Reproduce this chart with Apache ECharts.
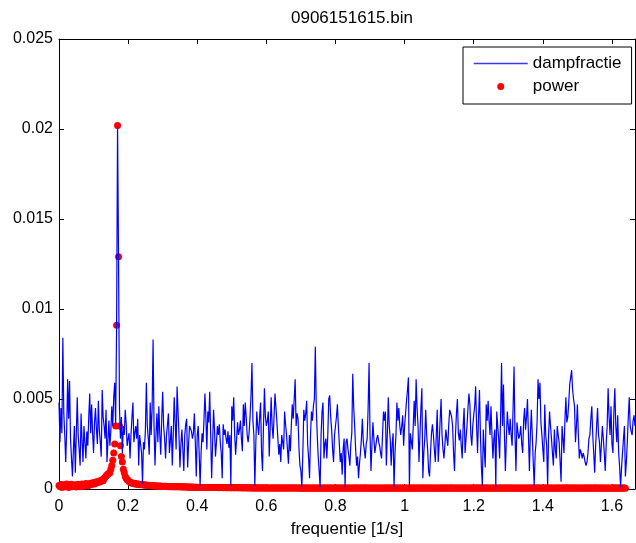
<!DOCTYPE html>
<html>
<head>
<meta charset="utf-8">
<title>0906151615.bin</title>
<script src="https://cdn.jsdelivr.net/npm/echarts@6/dist/echarts.min.js"></script>
<style>
  html, body { margin: 0; padding: 0; background: #fff; }
  #chart { width: 636px; height: 543px; }
</style>
</head>
<body>
<div id="chart"></div>
<script>
// frequency step of the spectrum (1/s)
const df = 1 / 360;
const xMax = 1 / 0.6;

// dampfractie, one value per frequency bin
const dampfractie = [
  0.0048, 0.0026, 0.0045, 0.0031, 0.0084, 0.0042, 0.0030, 0.0015, 0.0033, 0.0061,
  0.0039, 0.0060, 0.0028, 0.0017, 0.0007, 0.0022, 0.0035, 0.0009, 0.0030, 0.0051,
  0.0030, 0.0022, 0.0013, 0.0042, 0.0027, 0.0015, 0.0035, 0.0026, 0.0017, 0.0032,
  0.0024, 0.0040, 0.0053, 0.0031, 0.0047, 0.0031, 0.0020, 0.0037, 0.0045, 0.0033,
  0.0025, 0.0049, 0.0033, 0.0026, 0.0018, 0.0055, 0.0040, 0.0035, 0.0028, 0.0044,
  0.0015, 0.0027, 0.0038, 0.0024, 0.0032, 0.0046, 0.0035, 0.0051, 0.0059, 0.0036,
  0.0091, 0.0202, 0.0129, 0.0045, 0.0028, 0.0040, 0.0020, 0.0035, 0.0030, 0.0044,
  0.0036, 0.0024, 0.0028, 0.0031, 0.0017, 0.0030, 0.0040, 0.0048, 0.0026, 0.0031,
  0.0035, 0.0028, 0.0039, 0.0013, 0.0030, 0.0025, 0.0020, 0.0003, 0.0026, 0.0022,
  0.0033, 0.0059, 0.0035, 0.0028, 0.0019, 0.0048, 0.0030, 0.0045, 0.0083, 0.0035,
  0.0013, 0.0030, 0.0042, 0.0026, 0.0046, 0.0030, 0.0019, 0.0039, 0.0054, 0.0035,
  0.0028, 0.0017, 0.0030, 0.0036, 0.0042, 0.0020, 0.0027, 0.0035, 0.0013, 0.0030,
  0.0051, 0.0037, 0.0022, 0.0057, 0.0043, 0.0030, 0.0012, 0.0025, 0.0033, 0.0022,
  0.0010, 0.0030, 0.0036, 0.0039, 0.0012, 0.0025, 0.0035, 0.0036, 0.0032, 0.0028,
  0.0031, 0.0042, 0.0026, 0.0007, 0.0030, 0.0035, 0.0020, 0.0002, 0.0020, 0.0031,
  0.0026, 0.0038, 0.0053, 0.0040, 0.0022, 0.0043, 0.0037, 0.0054, 0.0030, 0.0006,
  0.0025, 0.0044, 0.0033, 0.0018, 0.0026, 0.0035, 0.0030, 0.0036, 0.0026, 0.0020,
  0.0006, 0.0036, 0.0030, 0.0033, 0.0028, 0.0025, 0.0032, 0.0023, 0.0030, 0.0002,
  0.0046, 0.0038, 0.0051, 0.0030, 0.0019, 0.0028, 0.0037, 0.0030, 0.0033, 0.0038,
  0.0028, 0.0021, 0.0047, 0.0035, 0.0048, 0.0040, 0.0030, 0.0026, 0.0031, 0.0040,
  0.0052, 0.0070, 0.0038, 0.0030, 0.0002, 0.0025, 0.0043, 0.0035, 0.0030, 0.0040,
  0.0048, 0.0020, 0.0010, 0.0035, 0.0056, 0.0040, 0.0035, 0.0038, 0.0043, 0.0018,
  0.0034, 0.0051, 0.0035, 0.0028, 0.0040, 0.0053, 0.0045, 0.0037, 0.0028, 0.0019,
  0.0025, 0.0015, 0.0030, 0.0026, 0.0022, 0.0043, 0.0036, 0.0030, 0.0022, 0.0014,
  0.0030, 0.0021, 0.0035, 0.0047, 0.0039, 0.0040, 0.0061, 0.0035, 0.0042, 0.0039,
  0.0022, 0.0013, 0.0010, 0.0001, 0.0020, 0.0044, 0.0038, 0.0042, 0.0049, 0.0025,
  0.0017, 0.0006, 0.0030, 0.0043, 0.0038, 0.0046, 0.0050, 0.0079, 0.0045, 0.0030,
  0.0018, 0.0010, 0.0001, 0.0030, 0.0043, 0.0048, 0.0017, 0.0025, 0.0028, 0.0017,
  0.0030, 0.0050, 0.0052, 0.0040, 0.0033, 0.0022, 0.0015, 0.0030, 0.0035, 0.0040,
  0.0047, 0.0035, 0.0025, 0.0015, 0.0020, 0.0008, 0.0022, 0.0028, 0.0001, 0.0026,
  0.0028, 0.0022, 0.0018, 0.0013, 0.0025, 0.0031, 0.0064, 0.0045, 0.0035, 0.0022,
  0.0013, 0.0018, 0.0006, 0.0014, 0.0020, 0.0028, 0.0039, 0.0026, 0.0022, 0.0017,
  0.0025, 0.0028, 0.0045, 0.0070, 0.0030, 0.0010, 0.0025, 0.0037, 0.0028, 0.0020,
  0.0024, 0.0028, 0.0030, 0.0026, 0.0024, 0.0020, 0.0017, 0.0030, 0.0043, 0.0038,
  0.0043, 0.0013, 0.0030, 0.0051, 0.0035, 0.0028, 0.0013, 0.0025, 0.0031, 0.0001,
  0.0020, 0.0030, 0.0048, 0.0038, 0.0045, 0.0035, 0.0030, 0.0035, 0.0041, 0.0024,
  0.0035, 0.0042, 0.0049, 0.0055, 0.0062, 0.0001, 0.0031, 0.0030, 0.0022, 0.0035,
  0.0049, 0.0035, 0.0061, 0.0045, 0.0035, 0.0015, 0.0030, 0.0045, 0.0056, 0.0006,
  0.0020, 0.0028, 0.0044, 0.0030, 0.0022, 0.0010, 0.0007, 0.0020, 0.0031, 0.0036,
  0.0030, 0.0022, 0.0015, 0.0030, 0.0044, 0.0015, 0.0025, 0.0038, 0.0050, 0.0030,
  0.0022, 0.0017, 0.0025, 0.0033, 0.0028, 0.0024, 0.0036, 0.0044, 0.0043, 0.0040,
  0.0035, 0.0020, 0.0010, 0.0030, 0.0042, 0.0050, 0.0031, 0.0027, 0.0033, 0.0024,
  0.0017, 0.0035, 0.0045, 0.0020, 0.0028, 0.0035, 0.0045, 0.0053, 0.0047, 0.0030,
  0.0024, 0.0035, 0.0041, 0.0046, 0.0057, 0.0035, 0.0020, 0.0040, 0.0055, 0.0030,
  0.0012, 0.0002, 0.0033, 0.0022, 0.0012, 0.0047, 0.0038, 0.0049, 0.0038, 0.0030,
  0.0046, 0.0030, 0.0017, 0.0028, 0.0033, 0.0001, 0.0043, 0.0035, 0.0028, 0.0017,
  0.0040, 0.0070, 0.0035, 0.0058, 0.0030, 0.0010, 0.0028, 0.0043, 0.0035, 0.0030,
  0.0039, 0.0030, 0.0024, 0.0045, 0.0068, 0.0030, 0.0010, 0.0037, 0.0032, 0.0028,
  0.0030, 0.0035, 0.0025, 0.0020, 0.0038, 0.0045, 0.0033, 0.0040, 0.0050, 0.0030,
  0.0010, 0.0030, 0.0044, 0.0030, 0.0015, 0.0002, 0.0020, 0.0026, 0.0037, 0.0061,
  0.0050, 0.0059, 0.0037, 0.0030, 0.0022, 0.0015, 0.0047, 0.0030, 0.0024, 0.0002,
  0.0030, 0.0043, 0.0035, 0.0028, 0.0020, 0.0013, 0.0033, 0.0022, 0.0017, 0.0035,
  0.0030, 0.0026, 0.0015, 0.0004, 0.0035, 0.0028, 0.0020, 0.0038, 0.0051, 0.0037,
  0.0040, 0.0048, 0.0058, 0.0062, 0.0066, 0.0055, 0.0050, 0.0046, 0.0026, 0.0035,
  0.0047, 0.0030, 0.0017, 0.0022, 0.0020, 0.0017, 0.0020, 0.0018, 0.0015, 0.0013,
  0.0015, 0.0020, 0.0028, 0.0030, 0.0039, 0.0046, 0.0030, 0.0020, 0.0009, 0.0024,
  0.0035, 0.0045, 0.0030, 0.0026, 0.0015, 0.0025, 0.0035, 0.0028, 0.0020, 0.0010,
  0.0025, 0.0035, 0.0056, 0.0040, 0.0030, 0.0046, 0.0025, 0.0020, 0.0043, 0.0056,
  0.0035, 0.0026, 0.0041, 0.0020, 0.0012, 0.0001, 0.0012, 0.0020, 0.0028, 0.0035,
  0.0007, 0.0015, 0.0026, 0.0040, 0.0051, 0.0035, 0.0032, 0.0030, 0.0038, 0.0041,
  0.0035
];

// power, same frequency bins
const power = [
  0.0002, 0.00014, 0.00025, 0.00009, 0.00018, 0.00024, 0.00012, 0.0002, 0.00028, 0.00015,
  0.00008, 0.00022, 0.00018, 0.00026, 0.00012, 0.0002, 0.00016, 0.00024, 0.00011, 0.0002,
  0.00027, 0.00018, 0.00012, 0.00022, 0.00028, 0.0002, 0.00015, 0.00025, 0.0003, 0.00021,
  0.00017, 0.00028, 0.00024, 0.00032, 0.00025, 0.0003, 0.00036, 0.00028, 0.00034, 0.0004,
  0.00035, 0.00038, 0.00045, 0.0004, 0.00048, 0.00052, 0.00046, 0.00058, 0.00065, 0.00072,
  0.00078, 0.00084, 0.00088, 0.0009, 0.0011, 0.0013, 0.0016, 0.002, 0.0025, 0.0035,
  0.0091, 0.0202, 0.0129, 0.0035, 0.0024, 0.0018, 0.0015, 0.0011, 0.0009, 0.0007,
  0.0006, 0.00052, 0.00048, 0.00042, 0.00038, 0.00035, 0.00033, 0.0003, 0.00032, 0.00028,
  0.0003, 0.00027, 0.00026, 0.00028, 0.00025, 0.00024, 0.00026, 0.00023, 0.00022, 0.00024,
  0.00021, 0.00022, 0.0002, 0.00021, 0.00019, 0.0002, 0.00018, 0.00019, 0.00018, 0.00017,
  0.00017, 0.00016, 0.00017, 0.00016, 0.00015, 0.00016, 0.00015, 0.00015, 0.00014, 0.00015,
  0.00014, 0.00015, 0.00014, 0.00014, 0.00013, 0.00014, 0.00013, 0.00014, 0.00013, 0.00013,
  0.00013, 0.00012, 0.00013, 0.00012, 0.00013, 0.00012, 0.00012, 0.00012, 0.00011, 0.00012,
  0.00011, 0.00012, 0.00011, 0.00011, 0.00011, 0.0001, 0.00011, 0.0001, 0.00011, 0.0001,
  0.0001, 0.0001, 0.0001, 0.00009, 0.0001, 0.00009, 0.0001, 0.00009, 0.00009, 0.00009,
  0.00009, 0.00009, 0.00008, 0.00009, 0.00008, 0.00009, 0.00008, 0.00008, 0.00009, 0.00008,
  0.00008, 0.00008, 0.00008, 0.00009, 0.00008, 0.00008, 0.00008, 0.00007, 0.00008, 0.00008,
  0.00008, 0.00007, 0.00008, 0.00008, 0.00007, 0.00008, 0.00007, 0.00008, 0.00007, 0.00007,
  0.00007, 0.00008, 0.00007, 0.00007, 0.00007, 0.00008, 0.00007, 0.00007, 0.00007, 0.00007,
  0.00007, 0.00007, 0.00006, 0.00007, 0.00007, 0.00007, 0.00006, 0.00007, 0.00007, 0.00006,
  0.00007, 0.00006, 0.00006, 0.00007, 0.00006, 0.00006, 0.00006, 0.00007, 0.00006, 0.00006,
  0.00006, 0.00006, 0.00007, 0.00006, 0.00006, 0.00006, 0.00006, 0.00005, 0.00006, 0.00006,
  0.00006, 0.00005, 0.00006, 0.00006, 0.00006, 0.00005, 0.00006, 0.00006, 0.00005, 0.00006,
  0.00006, 0.00005, 0.00006, 0.00005, 0.00006, 0.00006, 0.00005, 0.00005, 0.00006, 0.00005,
  0.00005, 0.00006, 0.00005, 0.00005, 0.00006, 0.00005, 0.00005, 0.00005, 0.00006, 0.00005,
  0.00005, 0.00005, 0.00004, 0.00005, 0.00005, 0.00005, 0.00004, 0.00005, 0.00005, 0.00005,
  0.00005, 0.00004, 0.00005, 0.00005, 0.00004, 0.00005, 0.00005, 0.00005, 0.00004, 0.00005,
  0.00004, 0.00005, 0.00005, 0.00004, 0.00005, 0.00004, 0.00005, 0.00005, 0.00004, 0.00005,
  0.00005, 0.00005, 0.00004, 0.00005, 0.00005, 0.00005, 0.00004, 0.00005, 0.00005, 0.00005,
  0.00005, 0.00004, 0.00005, 0.00005, 0.00004, 0.00005, 0.00005, 0.00005, 0.00004, 0.00005,
  0.00004, 0.00005, 0.00005, 0.00004, 0.00005, 0.00004, 0.00005, 0.00005, 0.00004, 0.00005,
  0.00005, 0.00005, 0.00004, 0.00005, 0.00005, 0.00005, 0.00004, 0.00005, 0.00005, 0.00005,
  0.00005, 0.00004, 0.00005, 0.00005, 0.00004, 0.00005, 0.00005, 0.00005, 0.00004, 0.00005,
  0.00004, 0.00005, 0.00005, 0.00004, 0.00005, 0.00004, 0.00005, 0.00005, 0.00004, 0.00005,
  0.00005, 0.00005, 0.00004, 0.00005, 0.00005, 0.00005, 0.00004, 0.00005, 0.00005, 0.00005,
  0.00005, 0.00004, 0.00005, 0.00005, 0.00004, 0.00005, 0.00005, 0.00005, 0.00004, 0.00005,
  0.00004, 0.00005, 0.00005, 0.00004, 0.00005, 0.00004, 0.00005, 0.00005, 0.00004, 0.00005,
  0.00005, 0.00005, 0.00004, 0.00005, 0.00005, 0.00005, 0.00004, 0.00005, 0.00005, 0.00005,
  0.00005, 0.00004, 0.00005, 0.00005, 0.00004, 0.00005, 0.00005, 0.00005, 0.00004, 0.00005,
  0.00004, 0.00005, 0.00005, 0.00004, 0.00005, 0.00004, 0.00005, 0.00005, 0.00004, 0.00005,
  0.00005, 0.00005, 0.00004, 0.00005, 0.00005, 0.00005, 0.00004, 0.00005, 0.00005, 0.00005,
  0.00005, 0.00004, 0.00005, 0.00005, 0.00004, 0.00005, 0.00005, 0.00005, 0.00004, 0.00005,
  0.00004, 0.00005, 0.00005, 0.00004, 0.00005, 0.00004, 0.00005, 0.00005, 0.00004, 0.00005,
  0.00005, 0.00005, 0.00004, 0.00005, 0.00005, 0.00005, 0.00004, 0.00005, 0.00005, 0.00005,
  0.00005, 0.00004, 0.00005, 0.00005, 0.00004, 0.00005, 0.00005, 0.00005, 0.00004, 0.00005,
  0.00004, 0.00005, 0.00005, 0.00004, 0.00005, 0.00004, 0.00005, 0.00005, 0.00004, 0.00005,
  0.00005, 0.00005, 0.00004, 0.00005, 0.00005, 0.00005, 0.00004, 0.00005, 0.00005, 0.00005,
  0.00005, 0.00004, 0.00005, 0.00005, 0.00004, 0.00005, 0.00005, 0.00005, 0.00004, 0.00005,
  0.00004, 0.00005, 0.00005, 0.00004, 0.00005, 0.00004, 0.00005, 0.00005, 0.00004, 0.00005,
  0.00005, 0.00005, 0.00004, 0.00005, 0.00005, 0.00005, 0.00004, 0.00005, 0.00005, 0.00005,
  0.00005, 0.00004, 0.00005, 0.00005, 0.00004, 0.00005, 0.00005, 0.00005, 0.00004, 0.00005,
  0.00004, 0.00005, 0.00005, 0.00004, 0.00005, 0.00004, 0.00005, 0.00005, 0.00004, 0.00005,
  0.00005, 0.00005, 0.00004, 0.00005, 0.00005, 0.00005, 0.00004, 0.00005, 0.00005, 0.00005,
  0.00005, 0.00004, 0.00005, 0.00005, 0.00004, 0.00005, 0.00005, 0.00005, 0.00004, 0.00005,
  0.00004, 0.00005, 0.00005, 0.00004, 0.00005, 0.00004, 0.00005, 0.00005, 0.00004, 0.00005,
  0.00005, 0.00005, 0.00004, 0.00005, 0.00005, 0.00005, 0.00004, 0.00005, 0.00005, 0.00005,
  0.00005, 0.00004, 0.00005, 0.00005, 0.00004, 0.00005, 0.00005, 0.00005, 0.00004, 0.00005,
  0.00004, 0.00005, 0.00005, 0.00004, 0.00005, 0.00004, 0.00005, 0.00005, 0.00004, 0.00005,
  0.00005, 0.00005, 0.00004, 0.00005, 0.00005, 0.00005, 0.00004, 0.00005, 0.00005, 0.00005,
  0.00004
];

const freq = dampfractie.map((_, i) => i * df);

const fontFamily = 'Liberation Sans, Arial, sans-serif';

const chartDom = document.getElementById('chart');
const myChart = echarts.init(chartDom, null, { renderer: 'canvas' });

const boxAxis = {
  axisLine: { show: true, onZero: false, lineStyle: { color: '#000', width: 1 } },
  axisTick: { show: true, inside: true, length: 5, lineStyle: { color: '#000' } },
  splitLine: { show: false }
};

const option = {
  animation: false,
  backgroundColor: '#fff',
  title: {
    text: '0906151615.bin',
    left: 286,
    top: 5,
    textStyle: { fontFamily, fontSize: 17, fontWeight: 'normal', color: '#000' }
  },
  grid: { left: 59, right: 1, top: 39, bottom: 49 },
  legend: {
    orient: 'vertical',
    left: 463,
    top: 47,
    padding: [8, 10, 9, 10],
    itemWidth: 54,
    itemHeight: 7,
    itemGap: 6,
    borderColor: '#000',
    borderWidth: 1,
    borderRadius: 0,
    backgroundColor: '#fff',
    textStyle: { fontFamily, fontSize: 17, color: '#000', lineHeight: 16 },
    lineStyle: { color: '#3a3aff', width: 1.5 },
    data: [
      { name: 'dampfractie', itemStyle: { opacity: 0 } },
      { name: 'power', icon: 'circle' }
    ]
  },
  xAxis: [
    {
      type: 'value', min: 0, max: xMax, interval: 0.2, position: 'bottom',
      ...boxAxis,
      axisLabel: { color: '#000', fontFamily, fontSize: 16, margin: 10, showMaxLabel: false },
      name: 'frequentie [1/s]',
      nameLocation: 'middle',
      nameGap: 32,
      nameTextStyle: { color: '#000', fontFamily, fontSize: 17 }
    },
    {
      type: 'value', min: 0, max: xMax, interval: 0.2, position: 'top',
      ...boxAxis,
      axisLabel: { show: false }
    }
  ],
  yAxis: [
    {
      type: 'value', min: 0, max: 0.025, interval: 0.005, position: 'left',
      ...boxAxis,
      axisLabel: { color: '#000', fontFamily, fontSize: 16, margin: 6 }
    },
    {
      type: 'value', min: 0, max: 0.025, interval: 0.005, position: 'right',
      ...boxAxis,
      axisLabel: { show: false }
    }
  ],
  series: [
    {
      name: 'dampfractie',
      type: 'line',
      xAxisIndex: 0,
      yAxisIndex: 0,
      data: freq.map((f, i) => [f, dampfractie[i]]),
      symbol: 'none',
      lineStyle: { color: '#0000ff', width: 1.2 },
      itemStyle: { color: '#0000ff' }
    },
    {
      name: 'power',
      type: 'scatter',
      xAxisIndex: 0,
      yAxisIndex: 0,
      data: freq.map((f, i) => [f, power[i]]),
      symbol: 'circle',
      symbolSize: 7,
      progressive: 0,
      itemStyle: { color: '#ff0000', opacity: 1 }
    }
  ]
};

option && myChart.setOption(option);
</script>
</body>
</html>
